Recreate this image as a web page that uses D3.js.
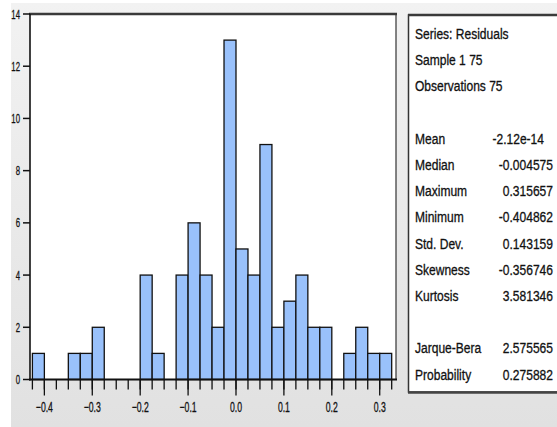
<!DOCTYPE html>
<html>
<head>
<meta charset="utf-8">
<script src="https://cdn.jsdelivr.net/npm/d3@7"></script>
<style>
  body { margin: 0; background: #fff; }
  text { font-family: "Liberation Sans", Arial, sans-serif; fill: #111; stroke: #111; stroke-width: 0.3px; }
</style>
</head>
<body>
<div id="chart"></div>
<script>
// Histogram of residuals (bin lower edges, width 0.025)
const binStarts = [-0.425, -0.4, -0.375, -0.35, -0.325, -0.3, -0.275, -0.25, -0.225, -0.2,
    -0.175, -0.15, -0.125, -0.1, -0.075, -0.05, -0.025, 0, 0.025, 0.05,
    0.075, 0.1, 0.125, 0.15, 0.175, 0.2, 0.225, 0.25, 0.275, 0.3];
const binWidth = 0.025;
const counts = [1, 0, 0, 1, 1, 2, 0, 0, 0, 4,
    1, 0, 4, 6, 4, 2, 13, 5, 4, 9,
    2, 3, 4, 2, 2, 0, 1, 2, 1, 1];

const xTickValues = [-0.4, -0.3, -0.2, -0.1, 0.0, 0.1, 0.2, 0.3];
const yTickValues = [0, 2, 4, 6, 8, 10, 12, 14];

const headerLines = ["Series: Residuals", "Sample 1 75", "Observations 75"];
const statNames = ["Mean", "Median", "Maximum", "Minimum", "Std. Dev.", "Skewness", "Kurtosis"];
const statValues = ["-2.12e-14", "-0.004575", "0.315657", "-0.404862", "0.143159", "-0.356746", "3.581346"];
const testNames = ["Jarque-Bera", "Probability"];
const testValues = ["2.575565", "0.275882"];

const W = 557, H = 427;

const svg = d3.select("#chart").append("svg")
    .attr("width", W)
    .attr("height", H);

// Background gradient
const defs = svg.append("defs");
const grad = defs.append("linearGradient")
    .attr("id", "bg")
    .attr("x1", 0).attr("y1", 0).attr("x2", 0).attr("y2", 1);
grad.append("stop").attr("offset", "0%").attr("stop-color", "#f2f2f2");
grad.append("stop").attr("offset", "100%").attr("stop-color", "#e1e1e1");

svg.append("rect")
    .attr("x", 11).attr("y", 3)
    .attr("width", W - 11).attr("height", H - 3)
    .attr("fill", "url(#bg)");

// Scales
const x = d3.scaleLinear().domain([-0.43, 0.334]).range([30, 396]);
const y = d3.scaleLinear().domain([0, 14]).range([379.5, 14]);

// Plot area
svg.append("rect")
    .attr("x", x.range()[0]).attr("y", y(14))
    .attr("width", x.range()[1] - x.range()[0])
    .attr("height", y(0) - y(14))
    .attr("fill", "#fff");

// Bars
svg.append("g")
    .selectAll("rect")
    .data(binStarts.map((s, i) => ({ start: s, count: counts[i] })).filter(d => d.count > 0))
    .join("rect")
    .attr("x", d => x(d.start))
    .attr("y", d => y(d.count))
    .attr("width", d => x(d.start + binWidth) - x(d.start))
    .attr("height", d => y(0) - y(d.count))
    .attr("fill", "#99c1fb")
    .attr("stroke", "#111")
    .attr("stroke-width", 1.3);

// Frame
svg.append("line")
    .attr("x1", x.range()[1]).attr("x2", x.range()[1])
    .attr("y1", y(14)).attr("y2", y(0))
    .attr("stroke", "#333").attr("stroke-width", 1.2);
svg.append("line")
    .attr("x1", x.range()[0] - 1).attr("x2", x.range()[1] + 1)
    .attr("y1", y(14)).attr("y2", y(14))
    .attr("stroke", "#3a3a3a").attr("stroke-width", 2.5);

// Y axis
const yAxis = svg.append("g")
    .attr("transform", `translate(${x.range()[0]},0)`);
yAxis.append("line")
    .attr("y1", y(14)).attr("y2", y(0) + 1)
    .attr("stroke", "#111").attr("stroke-width", 1.6);
const yt = yAxis.selectAll("g.tick")
    .data(yTickValues)
    .join("g")
    .attr("class", "tick")
    .attr("transform", d => `translate(0,${y(d)})`);
yt.append("line")
    .attr("x1", -7).attr("x2", 0)
    .attr("stroke", "#111").attr("stroke-width", 1.5);
yt.append("text")
    .attr("transform", "translate(-10,4.5) scale(0.6,1)")
    .attr("text-anchor", "end")
    .style("font-size", "13px")
    .text(d => d);

// X axis
const xAxis = svg.append("g")
    .attr("transform", `translate(0,${y(0)})`);
xAxis.append("line")
    .attr("x1", x.range()[0] - 1).attr("x2", x.range()[1] + 1)
    .attr("stroke", "#111").attr("stroke-width", 2);
const edges = binStarts.concat([binStarts[binStarts.length - 1] + binWidth]);
xAxis.selectAll("line.minor")
    .data(edges)
    .join("line")
    .attr("class", "minor")
    .attr("x1", d => x(d)).attr("x2", d => x(d))
    .attr("y1", 0).attr("y2", 10)
    .attr("stroke", "#111").attr("stroke-width", 1.3);
const xt = xAxis.selectAll("g.tick")
    .data(xTickValues)
    .join("g")
    .attr("class", "tick")
    .attr("transform", d => `translate(${x(d)},0)`);
xt.append("line")
    .attr("y1", 0).attr("y2", 16)
    .attr("stroke", "#111").attr("stroke-width", 1.3);
xt.append("text")
    .attr("transform", "translate(0,32) scale(0.62,1)")
    .attr("text-anchor", "middle")
    .style("font-size", "14px")
    .text(d => d3.format(".1f")(d));

// Statistics box
const box = svg.append("g");
box.append("rect")
    .attr("x", 408.5).attr("y", 15)
    .attr("width", 170).attr("height", 377)
    .attr("fill", "#fff")
    .attr("stroke", "#333").attr("stroke-width", 1.5);
box.append("line")
    .attr("x1", 408).attr("x2", W).attr("y1", 15).attr("y2", 15)
    .attr("stroke", "#3a3a3a").attr("stroke-width", 2.5);
box.append("line")
    .attr("x1", 408).attr("x2", W).attr("y1", 392.5).attr("y2", 392.5)
    .attr("stroke", "#444").attr("stroke-width", 2.5);

const sx = 0.83, fs = "14.5px";
const lineY = i => 39 + i * 26.2;

function leftText(txt, yy) {
    box.append("text")
        .attr("transform", `translate(415,${yy}) scale(${sx},1)`)
        .style("font-size", fs)
        .text(txt);
}
function rightText(txt, xx, yy) {
    box.append("text")
        .attr("transform", `translate(${xx},${yy}) scale(${sx},1)`)
        .attr("text-anchor", "end")
        .style("font-size", fs)
        .text(txt);
}

headerLines.forEach((t, i) => leftText(t, lineY(i)));
statNames.forEach((t, i) => {
    leftText(t, lineY(i + 4));
    rightText(statValues[i], i === 0 ? 544 : 553, lineY(i + 4));
});
testNames.forEach((t, i) => {
    leftText(t, lineY(i + 12));
    rightText(testValues[i], 553, lineY(i + 12));
});
</script>
</body>
</html>
